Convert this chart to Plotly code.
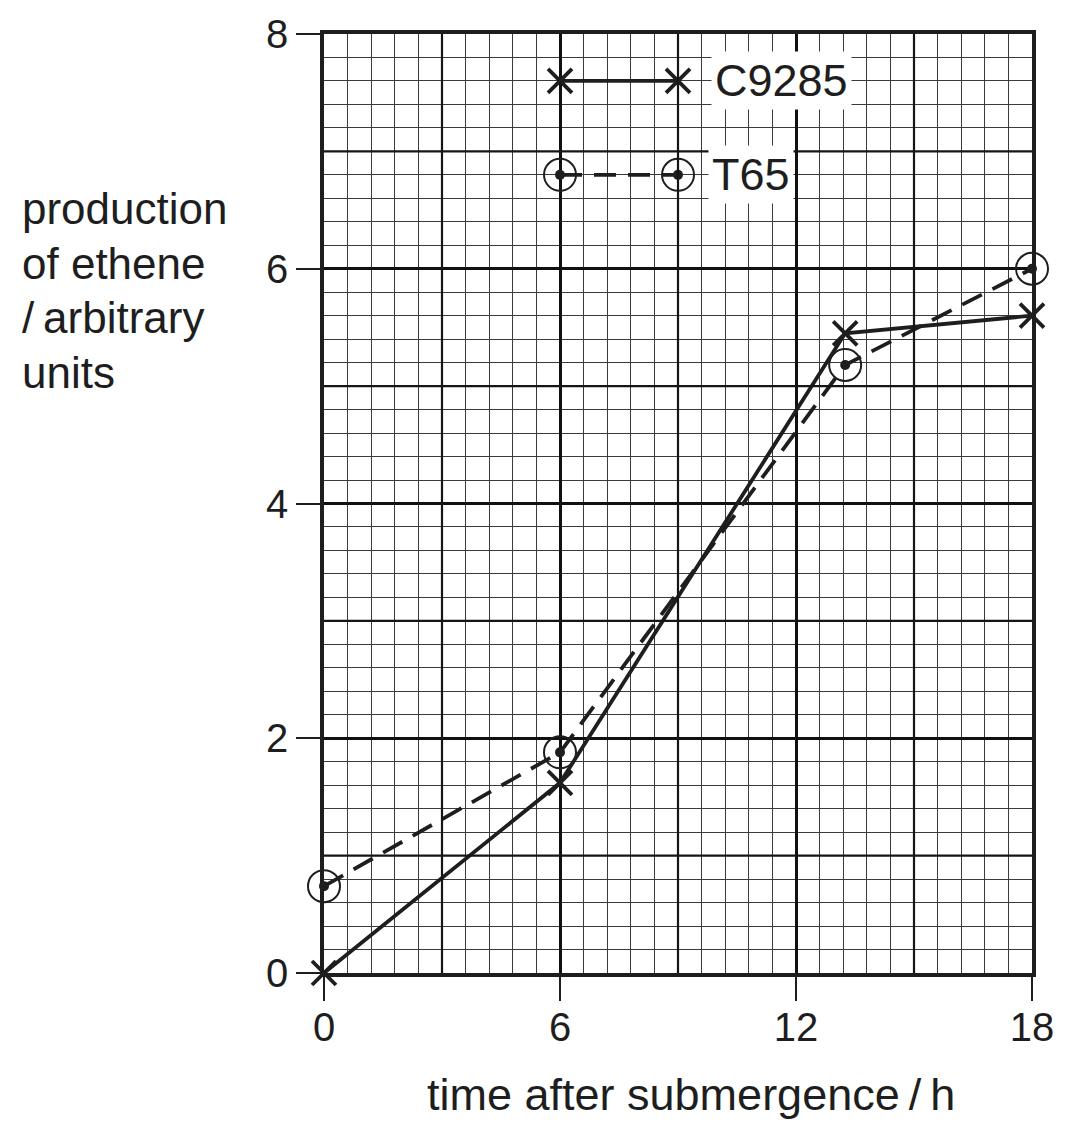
import plotly.graph_objects as go

# data
time_h = [0, 6, 13.25, 18]
c9285 = [0.0, 1.62, 5.45, 5.6]
t65 = [0.74, 1.88, 5.18, 6.0]

legend_x = [6, 9]
legend_y_c = [7.6, 7.6]
legend_y_t = [6.8, 6.8]

x_ticks = [0, 6, 12, 18]
y_ticks = [0, 2, 4, 6, 8]

y_title_lines = ["production", "of ethene", "/\u2009arbitrary", "units"]
x_title = "time after submergence\u2009/\u2009h"

INK = "#1e1e1e"
FONT = "Liberation Sans, Arial, Helvetica, sans-serif"

fig = go.Figure()

def add_series(xs, ys, kind):
    if kind == "c":
        fig.add_trace(go.Scatter(
            x=xs, y=ys, mode="lines+markers", cliponaxis=False,
            line=dict(color=INK, width=3.8),
            marker=dict(symbol="x-thin-open", size=24, color=INK,
                        line=dict(color=INK, width=3.8)),
            showlegend=False, hoverinfo="skip"))
    else:
        fig.add_trace(go.Scatter(
            x=xs, y=ys, mode="lines", cliponaxis=False,
            line=dict(color=INK, width=3.8, dash="22px,12px"),
            showlegend=False, hoverinfo="skip"))
        fig.add_trace(go.Scatter(
            x=xs, y=ys, mode="markers", cliponaxis=False,
            marker=dict(symbol="circle-open", size=32, color=INK,
                        line=dict(color=INK, width=2)),
            showlegend=False, hoverinfo="skip"))
        fig.add_trace(go.Scatter(
            x=xs, y=ys, mode="markers", cliponaxis=False,
            marker=dict(symbol="circle", size=10, color=INK),
            showlegend=False, hoverinfo="skip"))

add_series(time_h, t65, "t")
add_series(time_h, c9285, "c")
add_series(legend_x, legend_y_c, "c")
add_series(legend_x, legend_y_t, "t")

# medium grid lines (every 3 h, every 1 unit)
for v in range(3, 18, 6):
    fig.add_shape(type="line", xref="x", yref="y", x0=v, x1=v, y0=0, y1=8,
                  line=dict(color="#151515", width=2.2), layer="above")
for v in range(1, 8, 2):
    fig.add_shape(type="line", xref="x", yref="y", x0=0, x1=18, y0=v, y1=v,
                  line=dict(color="#151515", width=2.2), layer="above")

# legend labels
fig.add_annotation(x=9.85, y=7.6, xref="x", yref="y", text="C9285", showarrow=False,
                   xanchor="left", yanchor="middle", bgcolor="white", borderpad=3,
                   font=dict(size=45, color=INK, family=FONT))
fig.add_annotation(x=9.75, y=6.8, xref="x", yref="y", text="T65", showarrow=False,
                   xanchor="left", yanchor="middle", bgcolor="white", borderpad=3,
                   font=dict(size=45, color=INK, family=FONT))

# y-axis title, one line per annotation
plot_top, plot_h = 30, 943
for i, line in enumerate(y_title_lines):
    py = 205 + 55 * i
    fig.add_annotation(x=-0.43, y=(plot_top + plot_h - py) / plot_h, xref="paper", yref="paper",
                       text=line, showarrow=False, xanchor="left", yanchor="middle",
                       align="left", font=dict(size=44, color=INK, family=FONT))

fig.add_annotation(x=0.518, y=-0.129, xref="paper", yref="paper",
                   text=x_title, showarrow=False,
                   xanchor="center", yanchor="middle",
                   font=dict(size=45, color=INK, family=FONT))

fig.update_xaxes(range=[0, 18], tickvals=x_ticks, ticktext=[str(v) for v in x_ticks],
                 showgrid=True, gridcolor="#111", gridwidth=2.8,
                 minor=dict(dtick=0.6, tick0=0, showgrid=True, gridcolor="#3a3a3a", gridwidth=1.3),
                 showline=True, linecolor=INK, linewidth=3.5, mirror=True,
                 ticks="outside", ticklen=24, tickwidth=2, tickcolor=INK,
                 ticklabelstandoff=-8,
                 zeroline=False, tickfont=dict(size=40, color=INK, family=FONT))
fig.update_yaxes(range=[0, 8], tickvals=y_ticks, ticktext=[str(v) for v in y_ticks],
                 showgrid=True, gridcolor="#111", gridwidth=2.8,
                 minor=dict(dtick=0.2, tick0=0, showgrid=True, gridcolor="#3a3a3a", gridwidth=1.3),
                 showline=True, linecolor=INK, linewidth=3.5, mirror=True,
                 ticks="outside", ticklen=24, tickwidth=2, tickcolor=INK,
                 zeroline=False, tickfont=dict(size=40, color=INK, family=FONT))

fig.update_layout(width=1072, height=1132, margin=dict(l=324, r=40, t=30, b=159),
                  plot_bgcolor="white", paper_bgcolor="white", showlegend=False,
                  font=dict(family=FONT, color=INK))

fig.write_html("out.html")
